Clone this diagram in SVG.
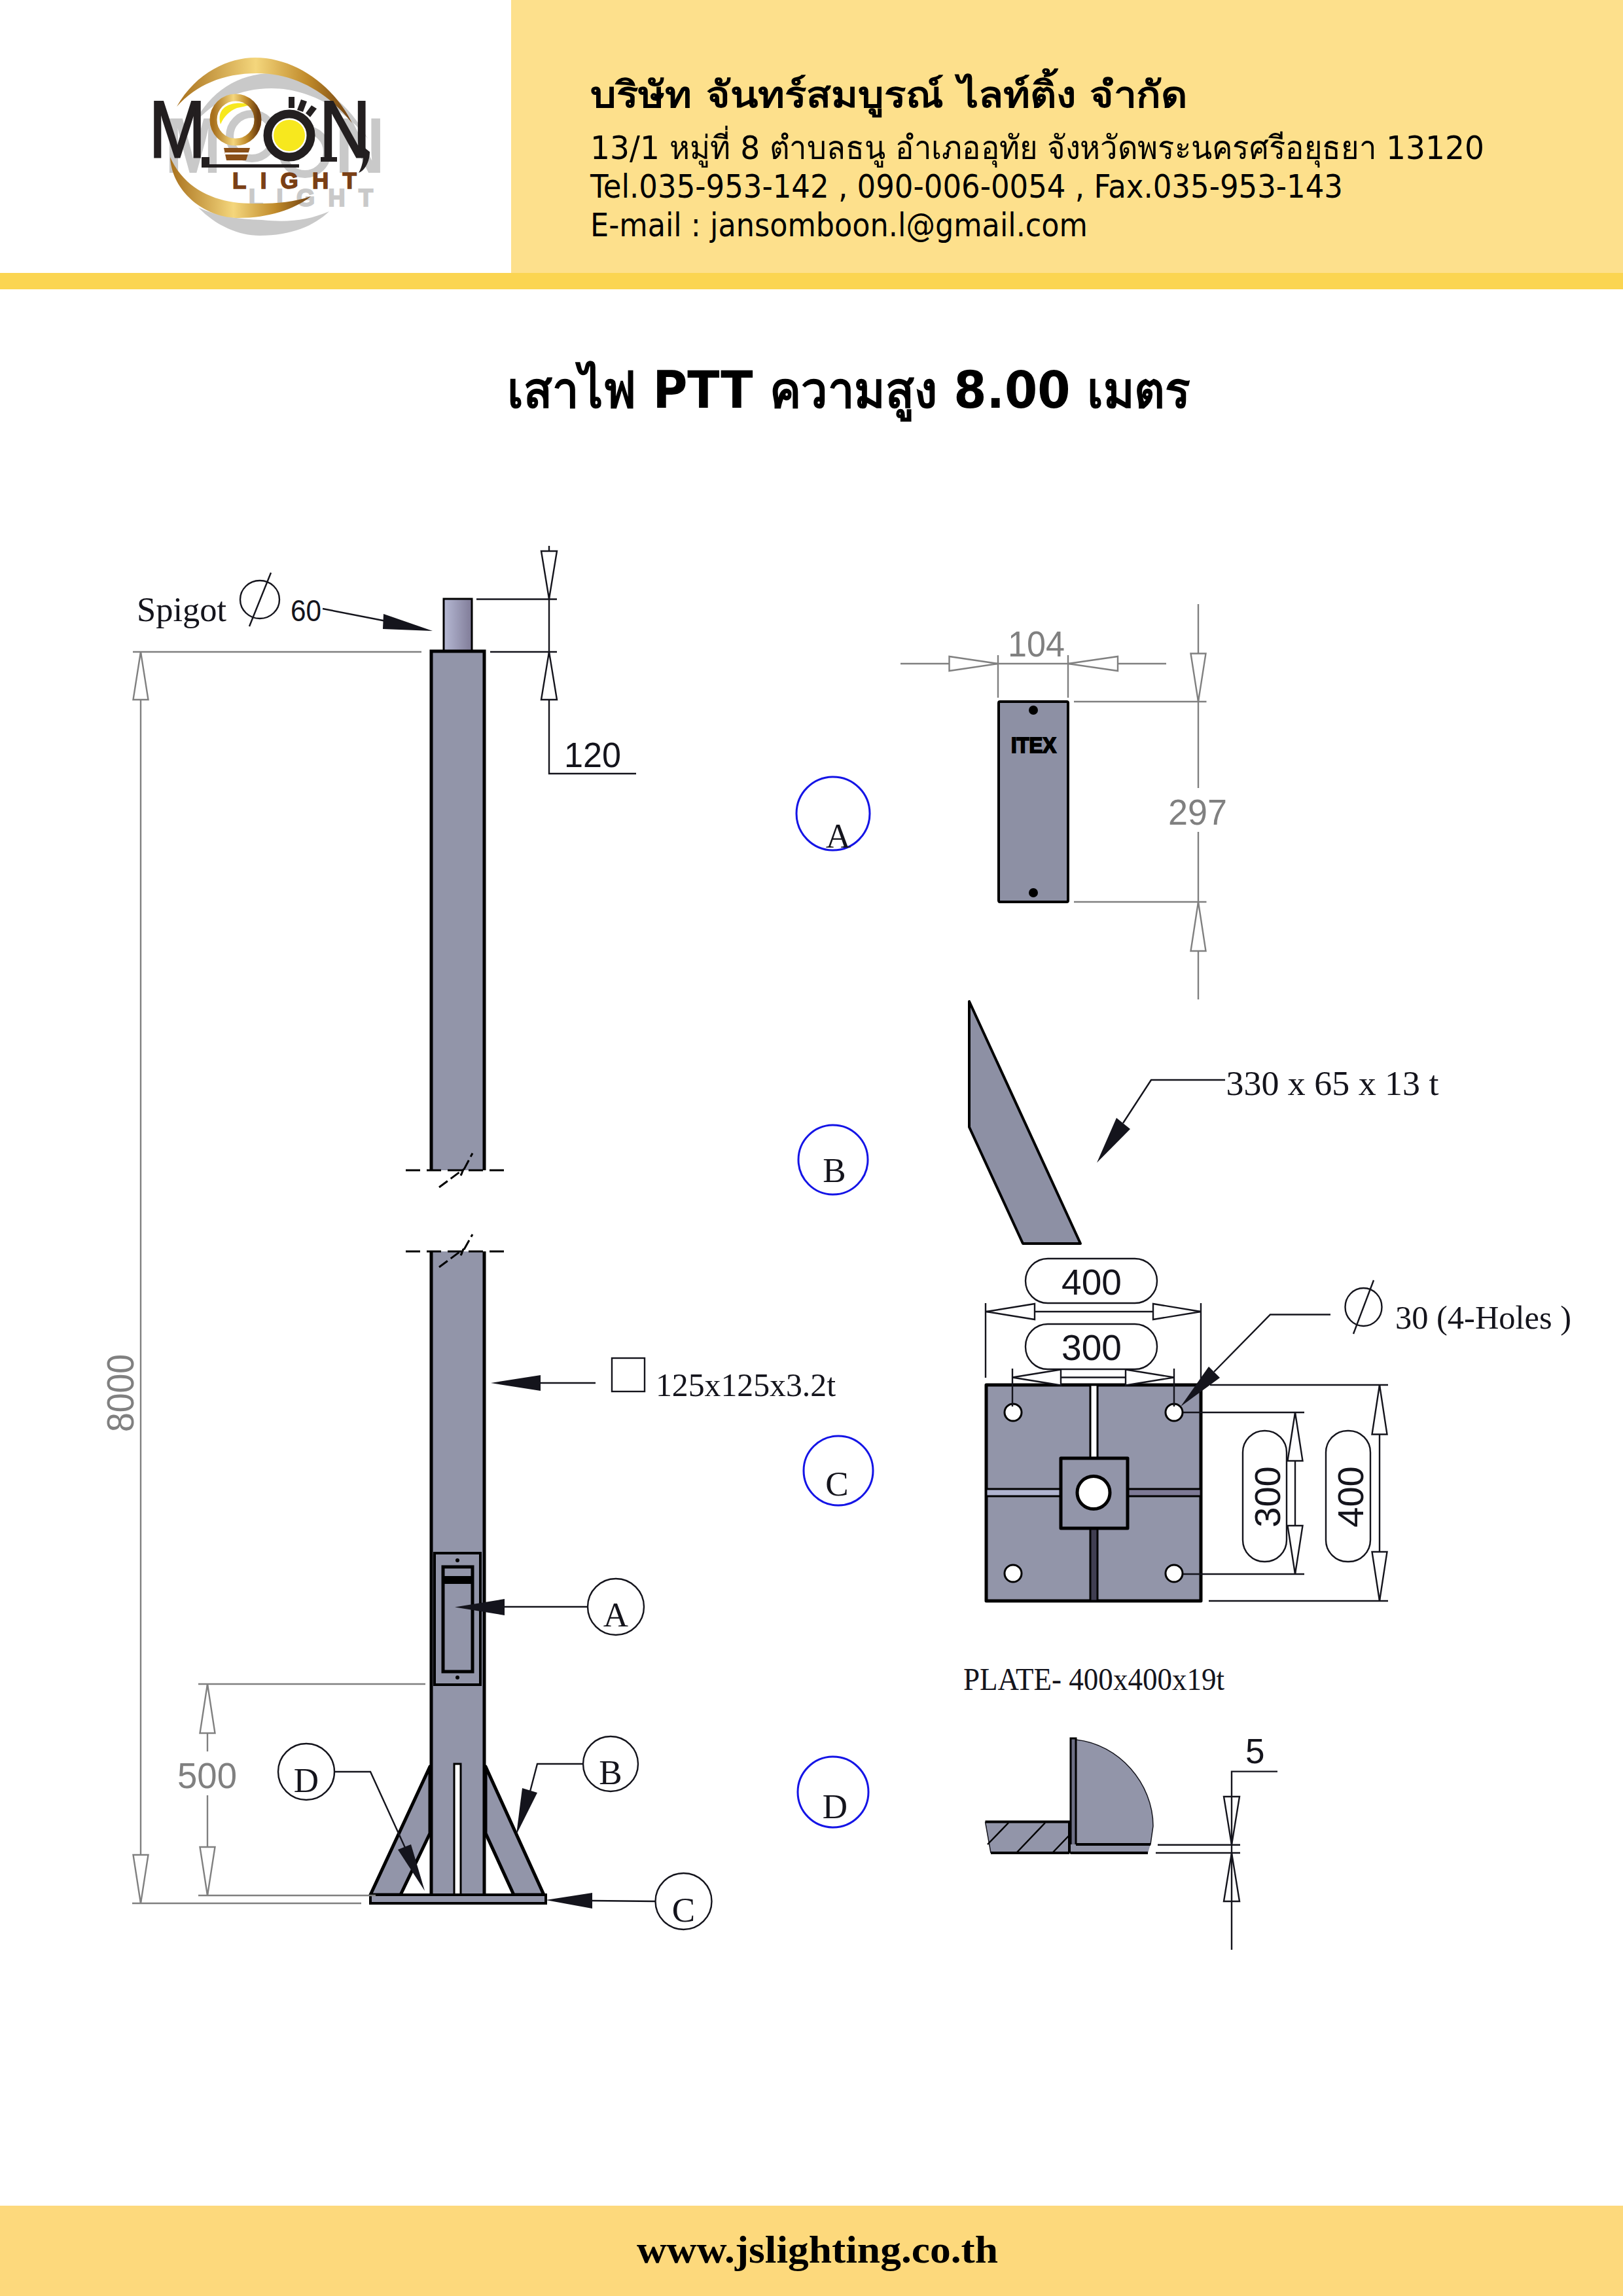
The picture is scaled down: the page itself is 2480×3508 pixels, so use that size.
<svg xmlns="http://www.w3.org/2000/svg" width="2480" height="3508" viewBox="0 0 2480 3508">
<style>
.th{font-family:"DejaVu Sans","Noto Sans","Liberation Sans",sans-serif;fill:#000}
.b{font-weight:700}
.sans{font-family:"Liberation Sans",Arial,sans-serif}
.serif{font-family:"Liberation Serif","Times New Roman",serif;fill:#14141c}
.ink{fill:#14141c}
.gr{fill:#808080}
.lg{font-family:"Liberation Sans",Arial,sans-serif;font-weight:700}
.l{fill:none;stroke:#14141c;stroke-width:2.4}
.g{fill:none;stroke:#808080;stroke-width:2.4}
.a{fill:#14141c;stroke:none}
.ao{fill:#fff;stroke:#14141c;stroke-width:2.4}
.ag{fill:#fff;stroke:#808080;stroke-width:2.4}
.steel{fill:#9295a9;stroke:#000;stroke-width:5;stroke-linejoin:round}
.steel2{fill:#8d90a4;stroke:#000;stroke-width:4;stroke-linejoin:round}
.cir{fill:#fff;stroke:#14141c;stroke-width:2.4}
.blue{fill:#fff;stroke:#1414e6;stroke-width:3}
.pill{fill:#fff;stroke:#14141c;stroke-width:2.4}
.hole{fill:#fff;stroke:#000;stroke-width:3}
.dash{fill:none;stroke:#000;stroke-width:3;stroke-dasharray:22 10}
</style>
<defs>
<linearGradient id="gold" x1="0" y1="0" x2="1" y2="0"><stop offset="0" stop-color="#a8701c"/><stop offset=".45" stop-color="#f4d67c"/><stop offset=".75" stop-color="#c08a2a"/><stop offset="1" stop-color="#6e3f10"/></linearGradient>
<linearGradient id="spig" x1="0" y1="0" x2="1" y2="0"><stop offset="0" stop-color="#b6b9d4"/><stop offset="1" stop-color="#807c98"/></linearGradient>
</defs>
<rect width="2480" height="3508" fill="#fff"/>

<g id="header">
<rect x="781" y="0" width="1699" height="417" fill="#fde08c"/>
<rect x="0" y="417" width="2480" height="25" fill="#fbd551"/>
<text class="th b" x="902" y="164" font-size="56" textLength="912" lengthAdjust="spacingAndGlyphs">บริษัท จันทร์สมบูรณ์ ไลท์ติ้ง จำกัด</text>
<text class="th" x="902" y="243" font-size="50" textLength="1366" lengthAdjust="spacingAndGlyphs">13/1 หมู่ที่ 8 ตำบลธนู อำเภออุทัย จังหวัดพระนครศรีอยุธยา 13120</text>
<text class="th" x="902" y="302" font-size="50" textLength="1150" lengthAdjust="spacingAndGlyphs">Tel.035-953-142 , 090-006-0054 , Fax.035-953-143</text>
<text class="th" x="902" y="361" font-size="50" textLength="760" lengthAdjust="spacingAndGlyphs">E-mail : jansomboon.l@gmail.com</text>
</g>

<g id="logo">
<g id="logo-shadow" fill="#c9c9c9">
<path d="M296 190C320 140 365 112 415 112C470 112 530 150 562 212C525 165 470 135 415 135C365 135 325 155 296 190Z"/>
<path d="M303 317C330 345 365 360 397 360C445 360 480 345 503 323C470 337 440 340 400 336C365 335 330 330 303 317Z"/>
<circle cx="385" cy="208" r="34" fill="none" stroke="#c9c9c9" stroke-width="12"/>
<circle cx="466" cy="232" r="34" fill="none" stroke="#c9c9c9" stroke-width="12"/>
<text class="lg" x="252" y="264" font-size="120" textLength="86" lengthAdjust="spacingAndGlyphs">M</text>
<text class="lg" x="512" y="264" font-size="120" textLength="76" lengthAdjust="spacingAndGlyphs">N</text>
<text class="lg" x="380" y="315" font-size="36" textLength="190" lengthAdjust="spacing" stroke="#c9c9c9" stroke-width="2">LIGHT</text>
</g>
<path fill="url(#gold)" d="M270 163C300 110 350 88 390 88C450 88 510 130 538 188C500 140 450 112 393 112C340 112 300 130 270 163Z"/>
<path fill="url(#gold)" d="M260 240C262 290 310 333 365 333C410 333 450 320 475 300C440 312 400 312 365 310C320 305 280 285 260 240Z"/>
<path fill="#f7e81e" d="M337 190C330 165 350 155 375 158C390 160 375 162 362 165C350 170 342 178 337 190Z"/>
<circle cx="360" cy="183" r="34" fill="none" stroke="url(#gold)" stroke-width="11"/>
<path fill="#8a4f18" d="M342 226H382L376 245H346Z"/>
<path fill="#fff" d="M344 233H380V236H344Z"/>
<circle cx="442" cy="207" r="33" fill="#fff" stroke="#231f20" stroke-width="13"/>
<circle cx="442" cy="207" r="24" fill="#f7e81e"/>
<rect x="441" y="148" width="9" height="17" fill="#231f20"/>
<path fill="#231f20" d="M460 152L469 155L463 171L454 168Z"/>
<path fill="#231f20" d="M476 161L484 166L474 179L467 173Z"/>
<text x="228" y="240" font-family="Liberation Sans,Arial,sans-serif" font-size="122" textLength="86" lengthAdjust="spacingAndGlyphs" fill="#231f20" stroke="#231f20" stroke-width="3">M</text>
<text x="488" y="240" font-family="Liberation Sans,Arial,sans-serif" font-size="122" textLength="78" lengthAdjust="spacingAndGlyphs" fill="#231f20" stroke="#231f20" stroke-width="3">N</text>
<path fill="#231f20" d="M308 240H320V251H457V256H308Z"/>
<path fill="#231f20" d="M490 240H515V247H490Z"/>
<path fill="#231f20" d="M556 225L565 232C565 250 555 262 548 264C553 255 556 245 556 225Z"/>
<text class="lg" x="355" y="288" font-size="35" textLength="190" lengthAdjust="spacing" fill="#7a3f14" stroke="#7a3f14" stroke-width="1.500">LIGHT</text>
</g>

<g id="title">
<text class="th b" x="775" y="623" font-size="78" textLength="1044" lengthAdjust="spacingAndGlyphs">เสาไฟ PTT ความสูง 8.00 เมตร</text>
</g>

<g id="pole">
<rect x="678" y="915" width="43" height="80" fill="url(#spig)" stroke="#000" stroke-width="3"/>
<rect x="657" y="995" width="84" height="793" fill="#9295a9"/>
<path d="M659 1788V995H740V1788" fill="none" stroke="#000" stroke-width="5"/>
<rect x="657" y="1912" width="85" height="983" fill="#9295a9"/>
<path d="M659 1912V2895M740 1912V2895" fill="none" stroke="#000" stroke-width="5"/>
<path class="steel" stroke-width="4" d="M657 2699L566 2895H612L657 2801Z"/>
<path class="steel" stroke-width="4" d="M742 2699L831 2895H785L742 2801Z"/>
<rect x="694" y="2695" width="10" height="200" fill="#fff" stroke="#000" stroke-width="3"/>
<rect x="566" y="2895" width="268" height="13" fill="#9295a9" stroke="#000" stroke-width="4"/>
<path class="dash" d="M620 1788H780M620 1912H780"/>
<path fill="none" stroke="#000" stroke-width="3" stroke-dasharray="16 6" d="M671 1814L702 1791L708 1787L704 1796L722 1762"/>
<path fill="none" stroke="#000" stroke-width="3" stroke-dasharray="16 6" d="M671 1936L702 1913L708 1909L704 1918L722 1886"/>
<g id="door-small">
<rect x="664" y="2373" width="70" height="201" fill="none" stroke="#000" stroke-width="4"/>
<rect x="677" y="2394" width="45" height="160" fill="none" stroke="#000" stroke-width="5"/>
<rect x="679" y="2408" width="41" height="12" fill="#000"/>
<circle cx="699" cy="2384" r="3" fill="#000"/>
<circle cx="699" cy="2563" r="3" fill="#000"/>
</g>
</g>

<g id="plate-a">
<rect class="steel2" x="1526" y="1072" width="106" height="306" rx="2"/>
<circle cx="1579" cy="1085" r="7" fill="#000"/>
<circle cx="1579" cy="1364" r="7" fill="#000"/>
<text class="lg" x="1545" y="1150" font-size="34" textLength="69" lengthAdjust="spacingAndGlyphs" fill="#000" stroke="#000" stroke-width="2">ITEX</text>
</g>

<g id="plate-b"><path class="steel2" d="M1481 1530V1722L1563 1900H1651Z"/></g>

<g id="plate-c">
<rect class="steel" x="1507" y="2116" width="328" height="330"/>
<rect x="1666" y="2116" width="11" height="112" fill="#fff" stroke="#000" stroke-width="3"/>
<rect x="1666" y="2335" width="11" height="111" fill="#403e52" stroke="#000" stroke-width="3"/>
<rect x="1507" y="2275" width="114" height="11" fill="#b0b4d0" stroke="#000" stroke-width="3"/>
<rect x="1723" y="2275" width="112" height="11" fill="#7e7a96" stroke="#000" stroke-width="3"/>
<rect class="steel" x="1621" y="2228" width="102" height="107"/>
<circle cx="1671" cy="2280.500" r="25" fill="#fff" stroke="#000" stroke-width="5"/>
<circle class="hole" cx="1548" cy="2158" r="13"/>
<circle class="hole" cx="1794" cy="2158" r="13"/>
<circle class="hole" cx="1548" cy="2404" r="13"/>
<circle class="hole" cx="1794" cy="2404" r="13"/>
</g>

<g id="plate-d">
<path d="M1505.500 2783.500H1634V2831H1514Z" fill="#9295a9"/>
<path d="M1505.500 2783.500H1634V2831M1514 2831H1634" fill="none" stroke="#000" stroke-width="4"/>
<path d="M1505.500 2783.500L1514 2831" fill="none" stroke="#14141c" stroke-width="1.500"/>
<path d="M1541 2785L1509 2818M1597 2785L1554 2830M1633 2805L1609 2830" fill="none" stroke="#000" stroke-width="2.500"/>
<path d="M1644 2658C1710 2665 1762 2725 1762 2790L1758 2818H1644Z" fill="#9295a9" stroke="#14141c" stroke-width="1.500"/>
<rect x="1636" y="2656" width="8" height="175" fill="#6d6f86" stroke="#000" stroke-width="3"/>
<path d="M1644 2818H1758L1754 2831H1636V2818Z" fill="#9295a9"/>
<path d="M1644 2818H1758M1636 2831H1754" fill="none" stroke="#000" stroke-width="4"/>
</g>

<g id="connectors">
<g id="dim-8000">
<path class="g" d="M215 996V2908M203 996H644M202 2908H552"/>
<polygon class="ag" points="215,996 226.500,1069 203.500,1069"/>
<polygon class="ag" points="215,2908 226.500,2834 203.500,2834"/>
</g>
<g id="dim-500">
<path class="g" d="M317 2573V2676M317 2743V2896M303 2573H650M303 2896H574"/>
<polygon class="ag" points="317,2573 328.500,2648 305.500,2648"/>
<polygon class="ag" points="317,2896 328.500,2822 305.500,2822"/>
</g>
<g id="dim-120">
<path class="l" d="M839 834V1182H972M728 915.500H851M749 996H851"/>
<polygon class="ao" points="839,915 851,842 827,842"/>
<polygon class="ao" points="839,996 851,1069 827,1069"/>
</g>
<g id="spigot-leader">
<path class="l" d="M493 930L590 949"/>
<polygon class="a" points="661,964 586,938 585,961"/>
</g>
<g id="section-leader">
<path class="l" d="M910 2113H826"/>
<polygon class="a" points="750,2113 826,2101 826,2125"/>
</g>
<g id="leader-a">
<path class="l" d="M898 2455H771"/>
<polygon class="a" points="695,2455.500 771,2443 771,2468"/>
</g>
<g id="leader-b">
<path class="l" d="M890 2695H821L810 2737"/>
<polygon class="a" points="789,2803 798,2732 821,2739"/>
</g>
<g id="leader-c">
<path class="l" d="M1002 2905L905 2904"/>
<polygon class="a" points="834,2903 905,2892 905,2916"/>
</g>
<g id="leader-d">
<path class="l" d="M511 2707H566L619 2823"/>
<polygon class="a" points="649,2889 608,2826 628,2818"/>
</g>
<g id="dim-104">
<path class="g" d="M1376 1014H1782M1525 1001V1066M1632 1001V1066"/>
<polygon class="ag" points="1525,1014 1450.500,1003 1450.500,1025"/>
<polygon class="ag" points="1632,1014 1708,1003 1708,1025"/>
</g>
<g id="dim-297">
<path class="g" d="M1831 923V1204M1831 1271V1527M1641 1072H1843.500M1641 1378H1843.500"/>
<polygon class="ag" points="1831,1072 1842.500,998.500 1819.500,998.500"/>
<polygon class="ag" points="1831,1378 1842.500,1453 1819.500,1453"/>
</g>
<g id="leader-330">
<path class="l" d="M1872 1650H1759L1716 1716"/>
<polygon class="a" points="1676,1776.500 1706,1708 1727,1725"/>
</g>
<g id="dim-400-h">
<path class="l" d="M1507 2004H1835M1506 1991V2105M1835 1991V2116"/>
<polygon class="ao" points="1507,2004 1581,1992 1581,2016"/>
<polygon class="ao" points="1835,2004 1762,1992 1762,2016"/>
</g>
<g id="dim-300-h">
<path class="l" d="M1547 2104.500H1794M1547 2091V2149M1794 2091V2149"/>
<polygon class="ao" points="1547,2104.500 1621,2092.500 1621,2116.500"/>
<polygon class="ao" points="1794,2104.500 1720,2092.500 1720,2116.500"/>
</g>
<g id="dim-400-v">
<path class="l" d="M2108 2116V2446M1849 2116H2121M1847 2446H2121"/>
<polygon class="ao" points="2108,2116 2119.500,2191.500 2096.500,2191.500"/>
<polygon class="ao" points="2108,2446 2119.500,2371 2096.500,2371"/>
</g>
<g id="dim-300-v">
<path class="l" d="M1979 2158V2405M1808 2158H1993M1808 2405H1993"/>
<polygon class="ao" points="1979,2158 1990.500,2232 1967.500,2232"/>
<polygon class="ao" points="1979,2405 1990.500,2331 1967.500,2331"/>
</g>
<g id="leader-holes">
<path class="l" d="M2033 2008.500H1941L1855 2096"/>
<polygon class="a" points="1804,2149 1847,2088 1864,2105"/>
</g>
<g id="dim-5">
<path class="l" d="M1882 2979V2706.600H1952M1769 2818.700H1895M1766 2831H1895"/>
<polygon fill="none" stroke="#14141c" stroke-width="2.400" points="1882,2818.700 1894,2745 1870,2745"/>
<polygon fill="none" stroke="#14141c" stroke-width="2.400" points="1882,2831 1894,2905 1870,2905"/>
</g>
</g>

<g id="label-spigot">
<text class="serif" x="209" y="949" font-size="52" textLength="137" lengthAdjust="spacingAndGlyphs">Spigot</text>
<ellipse cx="397" cy="916" rx="30" ry="29" fill="none" stroke="#14141c" stroke-width="2.400"/>
<path class="l" d="M414 875L381 957"/>
<text class="sans ink" x="444" y="949" font-size="47" textLength="47" lengthAdjust="spacingAndGlyphs">60</text>
</g>
<g id="label-120"><text class="sans ink" x="862" y="1172" font-size="54" textLength="87" lengthAdjust="spacingAndGlyphs">120</text></g>
<g id="label-8000"><text class="sans gr" transform="translate(204 2188) rotate(-90)" x="0" y="0" font-size="57" textLength="119" lengthAdjust="spacingAndGlyphs">8000</text></g>
<g id="label-500"><text class="sans gr" x="271" y="2732" font-size="55" textLength="91" lengthAdjust="spacingAndGlyphs">500</text></g>
<g id="label-section">
<rect x="935" y="2075" width="50" height="51" fill="#fff" stroke="#14141c" stroke-width="2.400"/>
<text class="serif" x="1002" y="2133" font-size="50" textLength="275" lengthAdjust="spacingAndGlyphs">125x125x3.2t</text>
</g>
<g id="callout-a"><circle class="cir" cx="941" cy="2455" r="43"/><text class="serif" x="941" y="2485" font-size="53" text-anchor="middle">A</text></g>
<g id="callout-b"><circle class="cir" cx="933" cy="2695" r="42"/><text class="serif" x="933" y="2726" font-size="53" text-anchor="middle">B</text></g>
<g id="callout-c"><circle class="cir" cx="1044.500" cy="2905" r="43"/><text class="serif" x="1044.500" y="2936" font-size="53" text-anchor="middle">C</text></g>
<g id="callout-d"><circle class="cir" cx="468" cy="2707" r="43"/><text class="serif" x="468" y="2738" font-size="53" text-anchor="middle">D</text></g>

<g id="section-a"><circle class="blue" cx="1273" cy="1243" r="56"/><text class="serif" x="1281" y="1295" font-size="53" text-anchor="middle">A</text></g>
<g id="section-b"><circle class="blue" cx="1273" cy="1772" r="53"/><text class="serif" x="1275" y="1806" font-size="53" text-anchor="middle">B</text></g>
<g id="section-c"><circle class="blue" cx="1281" cy="2247" r="53"/><text class="serif" x="1279" y="2285" font-size="53" text-anchor="middle">C</text></g>
<g id="section-d"><circle class="blue" cx="1273" cy="2738" r="54"/><text class="serif" x="1276" y="2778" font-size="53" text-anchor="middle">D</text></g>

<g id="label-104"><text class="sans gr" x="1540" y="1003" font-size="56" textLength="87" lengthAdjust="spacingAndGlyphs">104</text></g>
<g id="label-297"><text class="sans gr" x="1785" y="1260" font-size="56" textLength="90" lengthAdjust="spacingAndGlyphs">297</text></g>
<g id="label-330"><text class="serif" x="1873.500" y="1673" font-size="52" textLength="325" lengthAdjust="spacingAndGlyphs">330 x 65 x 13 t</text></g>
<g id="pill-400-h"><rect class="pill" x="1567" y="1923" width="201" height="68" rx="34"/><text class="sans ink" x="1668" y="1978" font-size="55" text-anchor="middle">400</text></g>
<g id="pill-300-h"><rect class="pill" x="1567" y="2023" width="201" height="69" rx="34"/><text class="sans ink" x="1668" y="2078" font-size="55" text-anchor="middle">300</text></g>
<g id="pill-300-v"><rect class="pill" x="1899" y="2186" width="67" height="200" rx="33"/><text class="sans ink" transform="translate(1956 2287) rotate(-90)" x="0" y="0" font-size="56" text-anchor="middle">300</text></g>
<g id="pill-400-v"><rect class="pill" x="2026" y="2186" width="68" height="200" rx="33"/><text class="sans ink" transform="translate(2083 2287) rotate(-90)" x="0" y="0" font-size="56" text-anchor="middle">400</text></g>
<g id="label-holes">
<ellipse cx="2083.500" cy="1997" rx="28" ry="29" fill="none" stroke="#14141c" stroke-width="2.400"/>
<path class="l" d="M2099 1956L2068 2038"/>
<text class="serif" x="2132" y="2030" font-size="50" textLength="269" lengthAdjust="spacingAndGlyphs">30 (4-Holes )</text>
</g>
<g id="label-plate"><text class="serif" x="1472" y="2582" font-size="48" textLength="399" lengthAdjust="spacingAndGlyphs">PLATE- 400x400x19t</text></g>
<g id="label-5"><text class="sans ink" x="1903" y="2694" font-size="53">5</text></g>

<g id="footer">
<rect x="0" y="3370" width="2480" height="138" fill="#fdd97c"/>
<text x="973" y="3457" font-family="Liberation Serif,Times New Roman,serif" font-weight="700" font-size="60" textLength="552" lengthAdjust="spacingAndGlyphs" fill="#000">www.jslighting.co.th</text>
</g>
</svg>
